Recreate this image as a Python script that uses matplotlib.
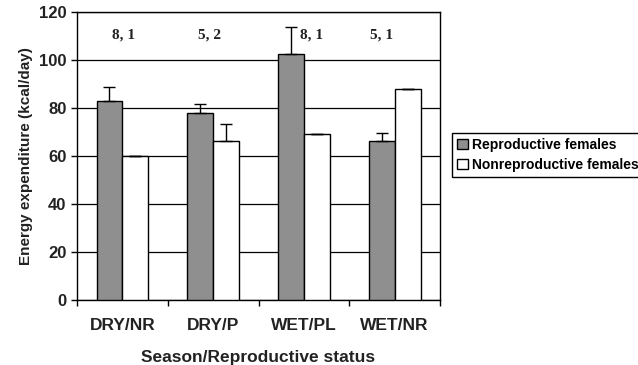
import numpy as np
import matplotlib.pyplot as plt

# data
groups = ['DRY/NR', 'DRY/P', 'WET/PL', 'WET/NR']
repro = [82.9, 77.8, 102.6, 66.4]
repro_err = [6.0, 3.9, 11.0, 3.1]
nonrepro = [60.0, 66.2, 69.0, 87.8]
nonrepro_err = [0.0, 7.1, 0.0, 0.0]
sample_sizes = ['8, 1', '5, 2', '8, 1', '5, 1']
label_x = [0.01, 0.965, 2.08, 2.86]

plt.rcParams['font.family'] = ['Liberation Sans', 'DejaVu Sans']
plt.rcParams['font.weight'] = 'bold'

fig = plt.figure(figsize=(6.38, 3.65), dpi=100)
ax = fig.add_axes([0.1207, 0.178, 0.569, 0.789])

x = np.arange(len(groups))
w = 0.285
ax.bar(x - w / 2, repro, w, color='#8f8f8f', edgecolor='black', linewidth=1,
       yerr=[np.zeros(4), repro_err], capsize=4, error_kw={'elinewidth': 1, 'capthick': 1},
       label='Reproductive females', zorder=3)
ax.bar(x + w / 2, nonrepro, w, color='white', edgecolor='black', linewidth=1,
       yerr=[np.zeros(4), nonrepro_err], capsize=4, error_kw={'elinewidth': 1, 'capthick': 1},
       label='Nonreproductive females', zorder=3)

for xi, s in zip(label_x, sample_sizes):
    ax.text(xi, 110.4, s, ha='center', va='center', fontsize=11,
            family='Liberation Serif', fontweight='bold', color='#222222')

ax.set_xlim(-0.5, 3.5)
ax.set_ylim(0, 120)
ax.set_yticks(range(0, 121, 20))
ax.yaxis.grid(True, color='black', linewidth=0.9, zorder=0)
ax.set_axisbelow(True)
ax.set_xticks(x)
ax.set_xticklabels(groups)
ax.set_xticks(np.arange(-0.5, 4, 1), minor=True)
ax.tick_params(axis='x', which='major', length=0, labelsize=12.5, pad=13, colors='#222222')
ax.tick_params(axis='x', which='minor', length=4, width=1, direction='out', color='black')
ax.tick_params(axis='y', length=4, width=1, direction='out', labelsize=12, labelcolor='#222222')
for sp in ax.spines.values():
    sp.set_linewidth(1)
ax.set_ylabel('Energy expenditure (kcal/day)', fontsize=11, fontweight='bold',
              labelpad=4, color='#222222')
ax.set_xlabel('Season/Reproductive status', fontsize=12.5, fontweight='bold',
              labelpad=12, color='#222222')

fig.legend(loc='upper left', bbox_to_anchor=(0.708, 0.636), fontsize=10,
           frameon=True, fancybox=False, edgecolor='black', framealpha=1,
           handlelength=0.8, handleheight=0.8, handletextpad=0.3,
           borderpad=0.35, labelspacing=0.45, borderaxespad=0)

fig.savefig('out.png', dpi=100)
